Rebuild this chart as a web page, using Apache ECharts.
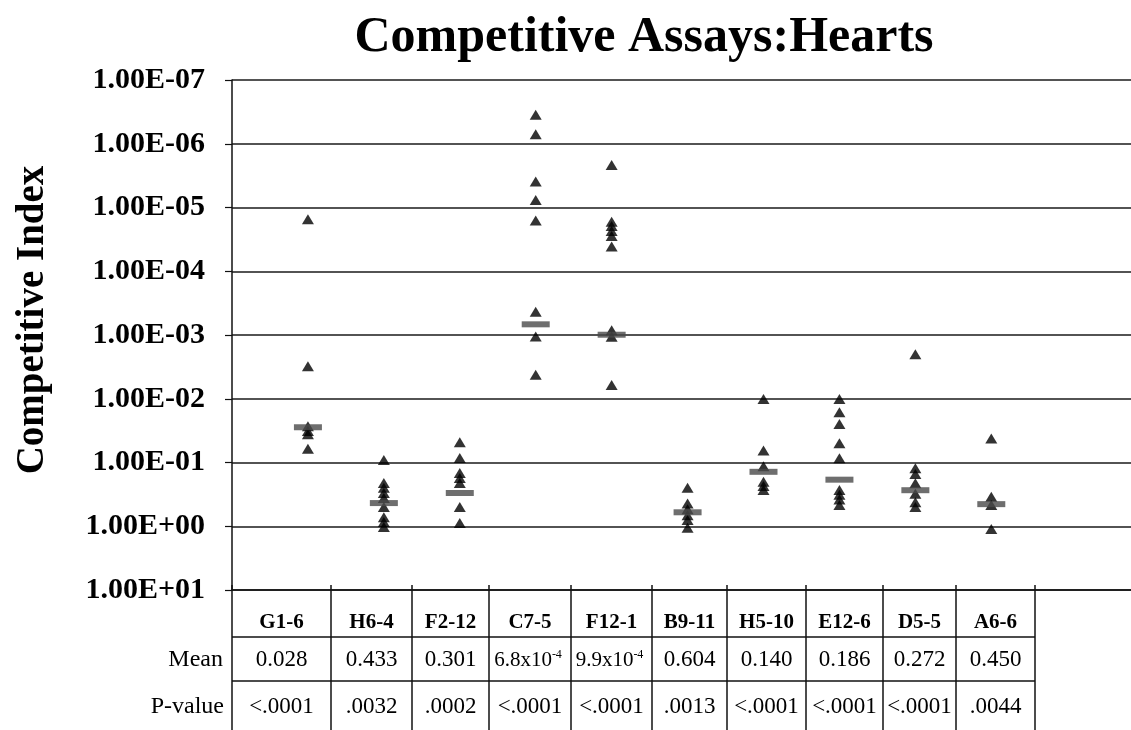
<!DOCTYPE html>
<html>
<head>
<meta charset="utf-8">
<script src="https://cdn.jsdelivr.net/npm/echarts@6/dist/echarts.min.js"></script>
<style>
html,body{margin:0;padding:0;background:#fff;}
#chart{width:1131px;height:730px;}
</style>
</head>
<body>
<div id="chart"></div>
<script>
// ---- data ----
const categories = ['G1-6', 'H6-4', 'F2-12', 'C7-5', 'F12-1', 'B9-11', 'H5-10', 'E12-6', 'D5-5', 'A6-6'];
const g16  = [1.53e-5, 3.1e-3, 0.027, 0.032, 0.036, 0.061];
const h64  = [0.091, 0.21, 0.25, 0.30, 0.36, 0.50, 0.72, 0.86, 1.03];
const f212 = [0.048, 0.085, 0.146, 0.175, 0.21, 0.50, 0.89];
const c75  = [3.5e-7, 7.1e-7, 3.9e-6, 7.6e-6, 1.6e-5, 4.3e-4, 1.06e-3, 4.2e-3];
const f121 = [2.15e-6, 1.67e-5, 1.95e-5, 2.34e-5, 2.8e-5, 4.1e-5, 8.4e-4, 1.07e-3, 6.1e-3];
const b911 = [0.25, 0.44, 0.54, 0.67, 0.80, 1.06];
const h510 = [0.0101, 0.065, 0.114, 0.20, 0.234, 0.27];
const e126 = [0.0101, 0.0163, 0.025, 0.050, 0.086, 0.27, 0.32, 0.38, 0.465];
const d55  = [0.002, 0.123, 0.151, 0.212, 0.31, 0.42, 0.50];
const a66  = [0.042, 0.344, 0.465, 1.10];
const meanValues = [0.028, 0.433, 0.301, 6.8e-4, 9.9e-4, 0.604, 0.140, 0.186, 0.272, 0.450];
const meanLabels = ['0.028', '0.433', '0.301', '6.8x10{s|-4}', '9.9x10{s|-4}', '0.604', '0.140', '0.186', '0.272', '0.450'];
const pValues = ['<.0001', '.0032', '.0002', '<.0001', '<.0001', '.0013', '<.0001', '<.0001', '<.0001', '.0044'];
const yMin = 1e-7, yMax = 10;

// ---- layout (table geometry) ----
const colEdges = [232, 331, 412, 489, 571, 652, 727, 806, 883, 956, 1035];
const rowTop = 589, rowHead = 637, rowMean = 681, rowBottom = 732;
const FONT = '"Liberation Serif", "Times New Roman", serif';

const groups = [g16, h64, f212, c75, f121, b911, h510, e126, d55, a66];
const pointData = [];
groups.forEach((arr, i) => arr.forEach(v => pointData.push([i + 1, v])));
const meanData = meanValues.map((v, i) => [i + 1, v]);

function sci(v) {
  const e = Math.round(Math.log10(v));
  const a = Math.abs(e);
  return '1.00E' + (e < 0 ? '-' : '+') + (a < 10 ? '0' : '') + a;
}

const graphics = [];
const lineStyle = {stroke: '#111', lineWidth: 1.5};
[rowHead, rowMean].forEach(y => graphics.push({
  type: 'line', shape: {x1: colEdges[0], y1: y, x2: colEdges[colEdges.length - 1], y2: y}, style: lineStyle, silent: true
}));
colEdges.forEach(x => graphics.push({
  type: 'line', shape: {x1: x, y1: rowTop - 4, x2: x, y2: rowBottom}, style: lineStyle, silent: true
}));
categories.forEach((c, i) => {
  const cx = (colEdges[i] + colEdges[i + 1]) / 2;
  graphics.push({type: 'text', x: cx, y: 623, silent: true,
    style: {text: c, fontFamily: FONT, fontWeight: 'bold', fontSize: 21, fill: '#000', align: 'center', verticalAlign: 'middle'}});
  const isExp = meanLabels[i].indexOf('{s|') >= 0;
  graphics.push({type: 'text', x: cx + (isExp ? -2 : 0), y: 660, silent: true,
    style: {text: meanLabels[i], fontFamily: FONT, fontSize: isExp ? 21 : 23, fill: '#000', align: 'center', verticalAlign: 'middle',
      rich: {s: {fontFamily: FONT, fontSize: 12, fill: '#000', verticalAlign: 'top', padding: [0, 0, 10, 0]}}}});
  graphics.push({type: 'text', x: cx, y: 707, silent: true,
    style: {text: pValues[i], fontFamily: FONT, fontSize: 23, fill: '#000', align: 'center', verticalAlign: 'middle'}});
});
graphics.push({type: 'text', x: 223, y: 660, silent: true,
  style: {text: 'Mean', fontFamily: FONT, fontSize: 24, fill: '#000', align: 'right', verticalAlign: 'middle'}});
graphics.push({type: 'text', x: 224, y: 707, silent: true,
  style: {text: 'P-value', fontFamily: FONT, fontSize: 24, fill: '#000', align: 'right', verticalAlign: 'middle'}});

const chart = echarts.init(document.getElementById('chart'));
chart.setOption({
  backgroundColor: '#fff',
  animation: false,
  title: {
    text: 'Competitive Assays:Hearts',
    left: 639, top: 8, textAlign: 'center',
    textStyle: {fontFamily: FONT, fontWeight: 'bold', fontSize: 50, color: '#000'}
  },
  grid: {left: 232, right: 0, top: 80, bottom: 140, containLabel: false},
  xAxis: {
    type: 'value', min: 0, max: 11.84,
    axisLine: {show: true, onZero: false, lineStyle: {color: '#111', width: 1.5}},
    axisTick: {show: false}, axisLabel: {show: false}, splitLine: {show: false}
  },
  yAxis: {
    type: 'log', logBase: 10, min: yMin, max: yMax, inverse: true,
    name: 'Competitive Index', nameLocation: 'middle', nameGap: 180, nameRotate: 90,
    nameTextStyle: {fontFamily: FONT, fontWeight: 'bold', fontSize: 39, color: '#000', padding: [0, 0, 0, 30]},
    axisLine: {show: true, lineStyle: {color: '#111', width: 1.5}},
    axisTick: {show: true, length: 7, lineStyle: {color: '#111', width: 1.2}},
    axisLabel: {formatter: sci, margin: 27, fontFamily: FONT, fontWeight: 'bold', fontSize: 30, color: '#000'},
    splitLine: {show: true, lineStyle: {color: '#1a1a1a', width: 1.5}}
  },
  series: [
    {
      name: 'Competitive Index', type: 'scatter', data: pointData,
      symbol: 'triangle', symbolSize: [12, 10],
      itemStyle: {color: '#000'}, z: 2
    },
    {
      name: 'Mean', type: 'scatter', data: meanData,
      symbol: 'rect', symbolSize: [28, 6],
      itemStyle: {color: '#4a4a4a'}, z: 3
    }
  ],
  graphic: graphics
});
</script>
</body>
</html>
